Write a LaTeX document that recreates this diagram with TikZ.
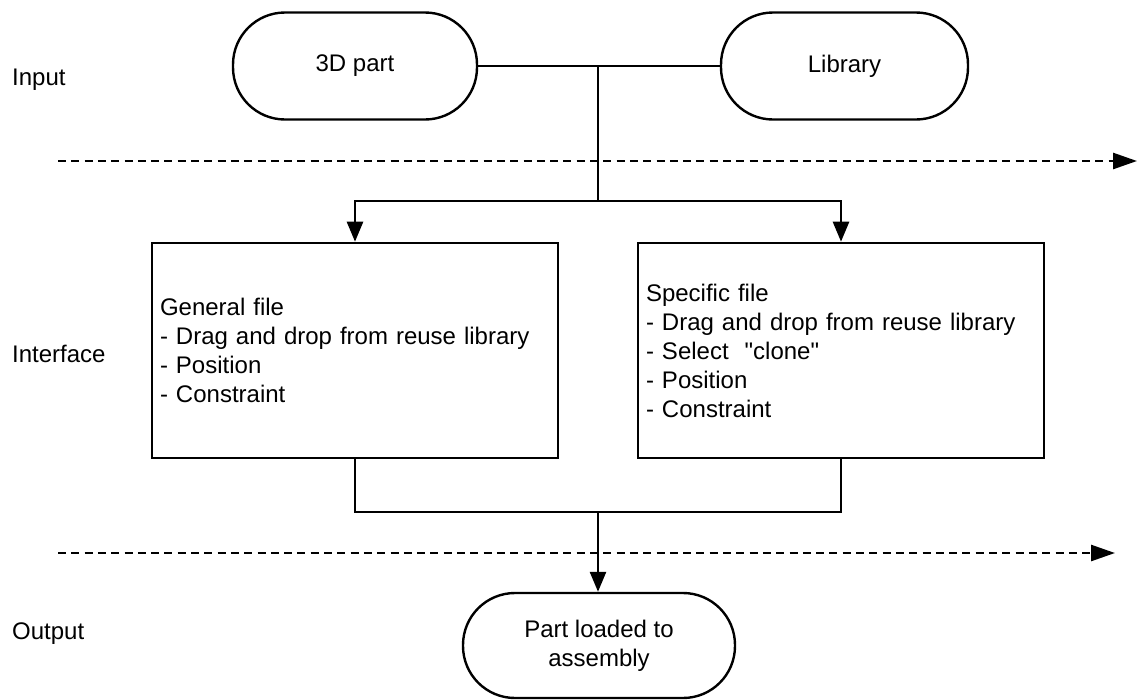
\documentclass[tikz,border=0pt]{standalone}
\usepackage{fontspec}
\setmainfont{Liberation Sans}[Ligatures=TeXOff]
\usetikzlibrary{arrows.meta}
\begin{document}
\begin{tikzpicture}[x=1pt,y=-1pt,
  font=\fontsize{24}{29}\selectfont,
  term/.style={draw, line width=2.4pt, rounded corners=52pt, align=center,
    minimum height=107pt, inner sep=0pt},
  stepbox/.style={draw, line width=2.6pt, minimum height=215pt, text width=390pt,
    inner xsep=8pt, inner ysep=0pt, align=left},
  conn/.style={line width=2.6pt},
  tip/.style={-{Triangle[length=20pt,width=16pt]}},
  sep/.style={line width=2.6pt, dash pattern=on 8pt off 5.3pt,
    -{Triangle[length=24pt,width=16pt]}},
  lane/.style={inner sep=0pt, anchor=base west}]
\useasboundingbox (0,0) rectangle (1137,699);

% lane labels
\node[lane] (lin)  at (12,85)  {Input};
\node[lane] (lif)  at (12,362) {Interface};
\node[lane] (lout) at (12,639) {Output};

% lane separators
\coordinate (s1a) at (58,161);  \coordinate (s1b) at (1137,161);
\coordinate (s2a) at (58,553);  \coordinate (s2b) at (1115,553);
\draw[sep] (s1a) -- (s1b);
\draw[sep] (s2a) -- (s2b);

% inputs
\node[term, minimum width=244pt] (part) at (355,66) {3D part};
\node[term, minimum width=247pt] (lib)  at (844.5,66) {Library};

% interface steps
\node[stepbox] (gen) at (355,350.5) {General file\\- Drag and drop from reuse library\\- Position\\- Constraint};
\node[stepbox] (spec) at (841,350.5) {Specific file\\- Drag and drop from reuse library\\- Select\ \ "clone"\\- Position\\- Constraint};

% output
\node[term, minimum width=272pt, minimum height=105pt] (out) at (599,645.5) {Part loaded to\\assembly};

% connectors
\coordinate (join) at (598,67);
\coordinate (split) at (598,201);
\coordinate (merge) at (598,512);
\draw[conn] (part.east) -- (lib.west);
\draw[conn] (join) -- (split);
\draw[conn,tip] (split) -| (gen.north);
\draw[conn,tip] (split) -| (spec.north);
\draw[conn] (gen.south) |- (merge);
\draw[conn] (spec.south) |- (merge);
\draw[conn,tip] (merge) -- (merge |- out.north);
\end{tikzpicture}
\end{document}
